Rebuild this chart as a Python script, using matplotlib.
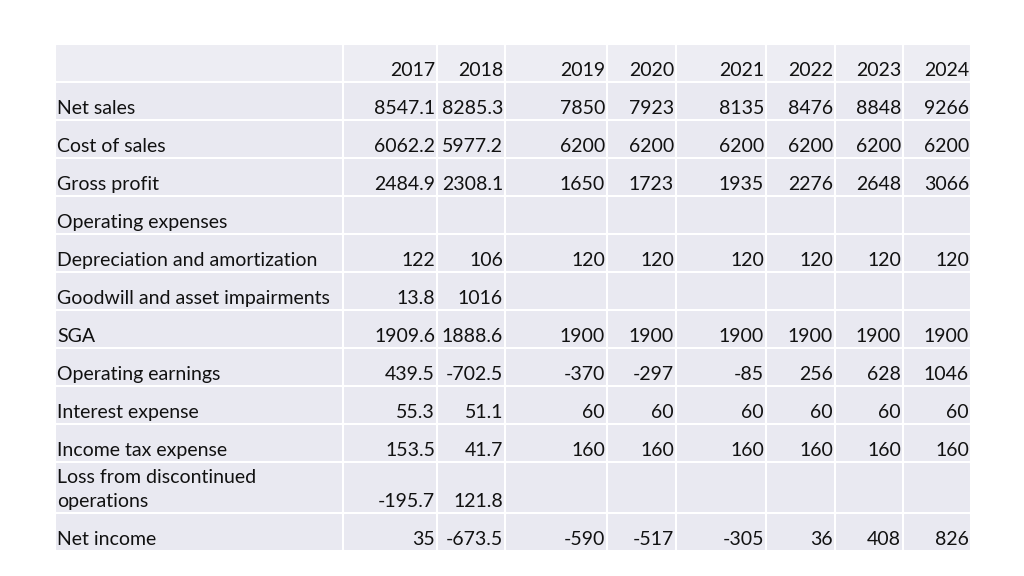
import matplotlib.pyplot as plt
from matplotlib.patches import Rectangle

years = ['2017', '2018', '2019', '2020', '2021', '2022', '2023', '2024']
row_labels = ['Net sales', 'Cost of sales', 'Gross profit', 'Operating expenses',
              'Depreciation and amortization', 'Goodwill and asset impairments',
              'SGA', 'Operating earnings', 'Interest expense', 'Income tax expense',
              'Loss from discontinued\noperations', 'Net income']

net_sales = ['8547.1', '8285.3', '7850', '7923', '8135', '8476', '8848', '9266']
cost_of_sales = ['6062.2', '5977.2', '6200', '6200', '6200', '6200', '6200', '6200']
gross_profit = ['2484.9', '2308.1', '1650', '1723', '1935', '2276', '2648', '3066']
operating_expenses = [''] * 8
depreciation = ['122', '106', '120', '120', '120', '120', '120', '120']
goodwill = ['13.8', '1016', '', '', '', '', '', '']
sga = ['1909.6', '1888.6', '1900', '1900', '1900', '1900', '1900', '1900']
operating_earnings = ['439.5', '-702.5', '-370', '-297', '-85', '256', '628', '1046']
interest_expense = ['55.3', '51.1', '60', '60', '60', '60', '60', '60']
income_tax = ['153.5', '41.7', '160', '160', '160', '160', '160', '160']
discontinued = ['-195.7', '121.8', '', '', '', '', '', '']
net_income = ['35', '-673.5', '-590', '-517', '-305', '36', '408', '826']

values = [net_sales, cost_of_sales, gross_profit, operating_expenses, depreciation,
          goodwill, sga, operating_earnings, interest_expense, income_tax,
          discontinued, net_income]

# layout in pixels
col_edges = [55, 343, 437, 505, 607, 676, 766, 835, 903, 971]
row_edges = [44, 82, 120, 158, 196, 234, 272, 310, 348, 386, 424, 462, 513, 551]

plt.rcParams['font.family'] = ['Lato', 'DejaVu Sans']
fig = plt.figure(figsize=(10.24, 5.76), dpi=100)
ax = fig.add_axes([0, 0, 1, 1])
ax.set_xlim(0, 1024)
ax.set_ylim(576, 0)
ax.axis('off')

fill = '#e9e9f1'
head_fill = '#ededf3'
txt = '#111111'
fs = 14

for r in range(len(row_edges) - 1):
    for c in range(len(col_edges) - 1):
        x0, x1 = col_edges[c], col_edges[c + 1]
        y0, y1 = row_edges[r], row_edges[r + 1]
        ax.add_patch(Rectangle((x0, y0), x1 - x0, y1 - y0,
                               facecolor=head_fill if r == 0 else fill,
                               edgecolor='white', linewidth=1.5))

# header
for c, yr in enumerate(years):
    ax.text(col_edges[c + 2] - 2, row_edges[1] - 11.5, yr, ha='right', va='center',
            fontsize=fs, color=txt)

# body
for r, (lab, vals) in enumerate(zip(row_labels, values)):
    bottom = row_edges[r + 2]
    if '\n' in lab:
        first, second = lab.split('\n')
        ax.text(col_edges[0] + 2, bottom - 35.5, first, ha='left', va='center',
                fontsize=fs, color=txt)
        ax.text(col_edges[0] + 2, bottom - 11.5, second, ha='left', va='center',
                fontsize=fs, color=txt)
    else:
        ax.text(col_edges[0] + 2, bottom - 11.5, lab, ha='left', va='center',
                fontsize=fs, color=txt)
    for c, v in enumerate(vals):
        if v:
            ax.text(col_edges[c + 2] - 2, bottom - 11.5, v, ha='right', va='center',
                    fontsize=fs, color=txt)

plt.savefig('out.png', dpi=100)
